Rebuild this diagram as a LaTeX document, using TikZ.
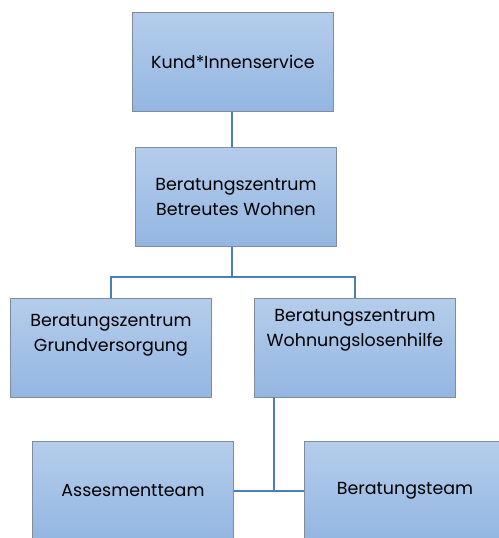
\documentclass[tikz,border=0pt]{standalone}
\usepackage{fontspec}
\setmainfont{Poppins}
\definecolor{boxtop}{HTML}{B5CDEB}
\definecolor{boxbot}{HTML}{93B6E2}
\definecolor{boxedge}{HTML}{7E8C9C}
\definecolor{linkblue}{HTML}{4A7EBB}
\begin{document}
\begin{tikzpicture}[x=1bp,y=-1bp,
  orgbox/.style={draw=boxedge,line width=0.9bp,top color=boxtop,bottom color=boxbot,
    minimum width=201bp,minimum height=99bp,inner sep=0pt,anchor=north west},
  lbl/.style={font=\fontsize{17.5}{25}\selectfont,align=center,text=black,inner sep=0pt},
  link/.style={draw=linkblue,line width=2bp}]
\useasboundingbox (0,0) rectangle (499,538);
\begin{scope}
\clip (0,0) rectangle (499,538);
\node[orgbox] (b1) at (132,12) {};
\node[orgbox] (b2) at (135,147) {};
\node[orgbox] (b3) at (10,298) {};
\node[orgbox] (b4) at (254,298) {};
\node[orgbox] (b5) at (32,441) {};
\node[orgbox] (b6) at (304,441) {};
\node[lbl] (t1) at (b1.center) {Kund*Innenservice};
\node[lbl] (t2) at (b2.center) {Beratungszentrum\\Betreutes Wohnen};
\node[lbl] (t3) at ([yshift=-37bp]b3.north) {Beratungszentrum\\Grundversorgung};
\node[lbl] (t4) at ([yshift=-32bp]b4.north) {Beratungszentrum\\Wohnungslosenhilfe};
\node[lbl] (t5) at ([yshift=-50bp]b5.north) {Assesmentteam};
\node[lbl] (t6) at ([yshift=-50bp]b6.north) {Beratungsteam};
\coordinate (j1) at (232,277);
\coordinate (j2) at (274,491);
\draw[link] (b1.south -| j1) -- (b2.north -| j1);
\draw[link] (b2.south -| j1) -- (j1);
\draw[link] (b3.north) |- (j1) -| (b4.north);
\draw[link] (b4.south -| j2) -- (j2);
\draw[link] (b5.east |- j2) -- (b6.west |- j2);
\end{scope}
\end{tikzpicture}
\end{document}
